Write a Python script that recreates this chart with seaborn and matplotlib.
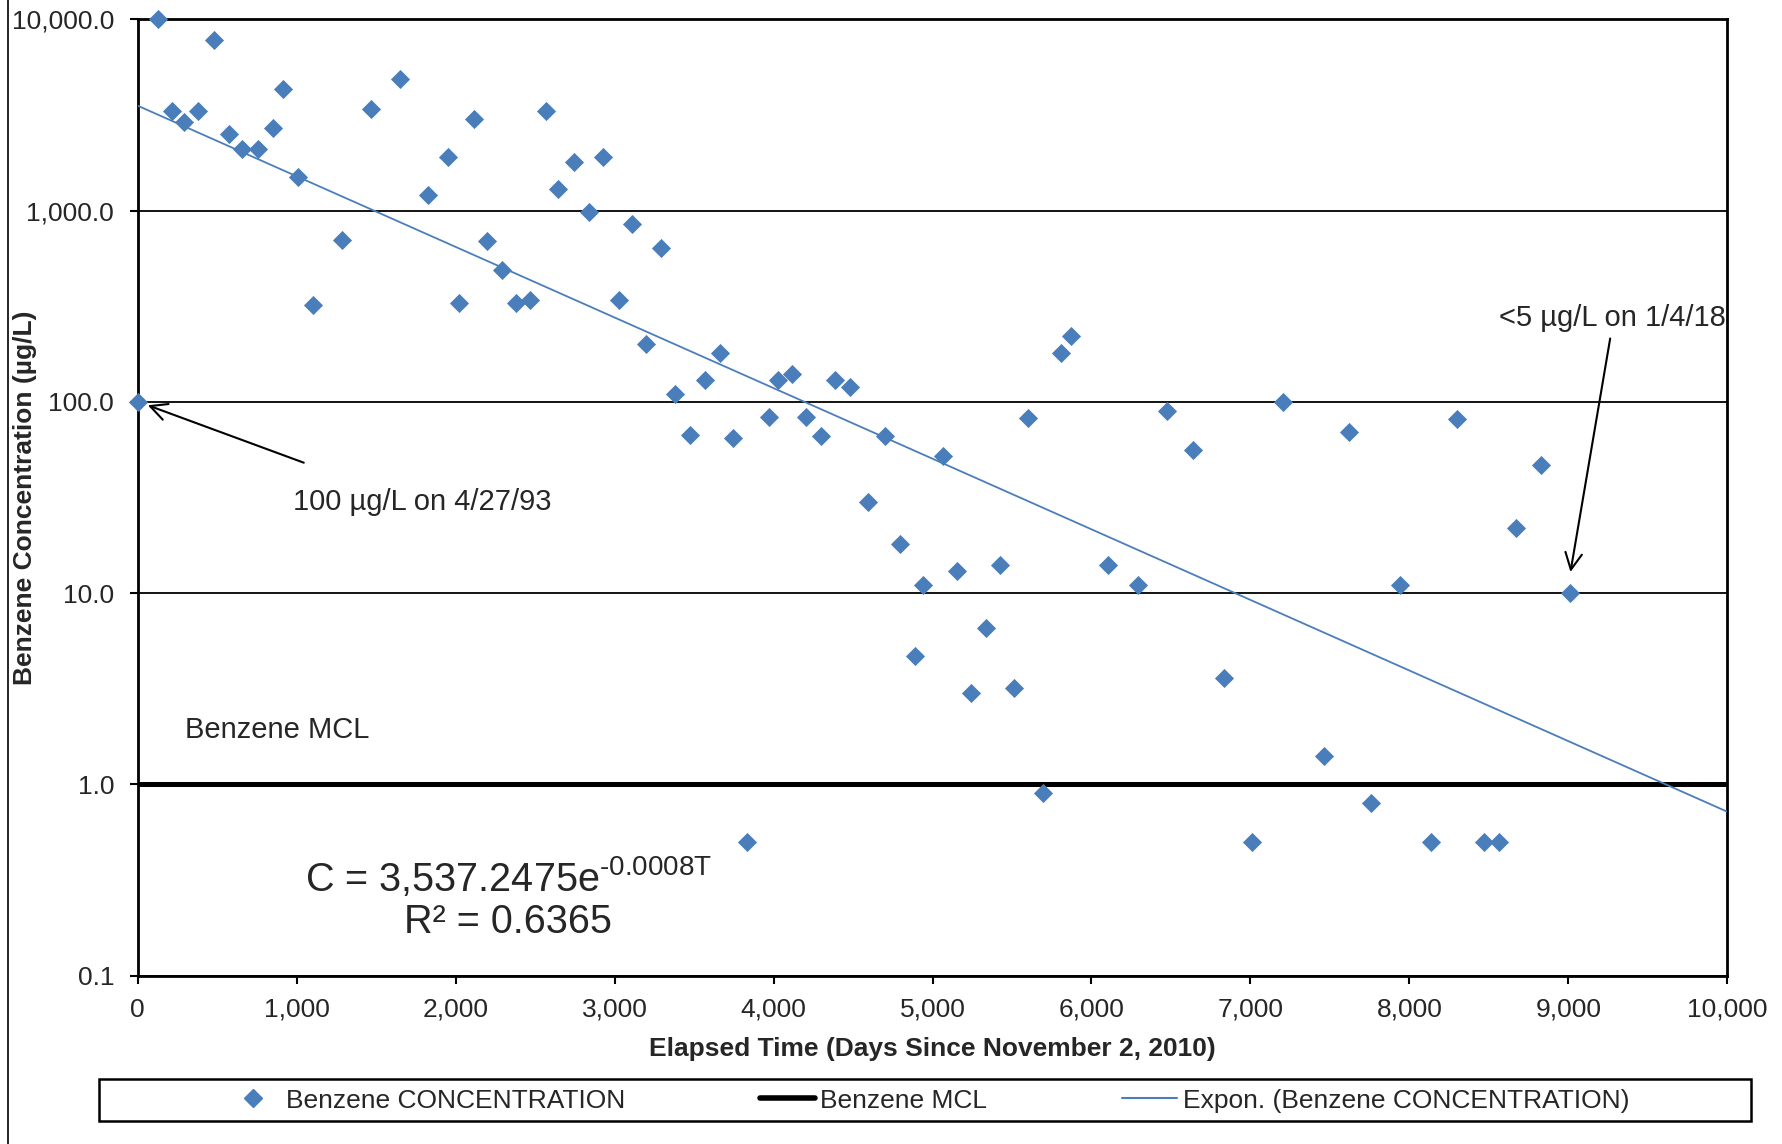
import numpy as np
import pandas as pd
import matplotlib
matplotlib.use("Agg")
import matplotlib.pyplot as plt
import seaborn as sns
from matplotlib.lines import Line2D
from matplotlib.patches import Rectangle
from matplotlib.ticker import FuncFormatter, FixedLocator, NullLocator

# Benzene concentration readings (elapsed days, ug/L)
elapsed_days = [0, 129, 215, 293, 379, 479, 572, 658, 758, 851, 916, 1009, 1102, 1288,
                1466, 1652, 1824, 1953, 2024, 2117, 2196, 2289, 2382, 2468, 2568, 2647,
                2747, 2840, 2926, 3026, 3112, 3197, 3290, 3383, 3476, 3569, 3662, 3748,
                3834, 3970, 4027, 4113, 4206, 4299, 4385, 4478, 4592, 4700, 4793, 4893,
                4943, 5064, 5157, 5243, 5336, 5422, 5515, 5601, 5694, 5808, 5873, 6102,
                6295, 6474, 6638, 6831, 7010, 7203, 7461, 7618, 7761, 7940, 8133, 8298,
                8469, 8562, 8670, 8827, 9013]
concentration = [100, 10000, 3300, 2900, 3300, 7800, 2500, 2100, 2100, 2700, 4300, 1500,
                 320, 700, 3400, 4900, 1200, 1900, 330, 3000, 690, 490, 330, 340, 3300,
                 1300, 1800, 980, 1900, 340, 850, 200, 640, 110, 67, 130, 180, 65,
                 0.5, 83, 130, 140, 83, 66, 130, 120, 30, 66, 18, 4.7,
                 11, 52, 13, 3.0, 6.6, 14, 3.2, 82, 0.9, 180, 220, 14,
                 11, 90, 56, 3.6, 0.5, 100, 1.4, 70, 0.8, 11, 0.5, 81,
                 0.5, 0.5, 22, 47, 10]

mcl_value = 1.0
trend_a = 3537.2475
trend_k = -0.00085
x_range = [0, 10000]

y_ticks = [0.1, 1, 10, 100, 1000, 10000]
x_ticks = list(range(0, 10001, 1000))

blue = "#4A7EBB"

sns.set_theme(style="white")
plt.rcParams["font.family"] = ["Liberation Sans", "DejaVu Sans"]
plt.rcParams["mathtext.fontset"] = "custom"
plt.rcParams["mathtext.rm"] = "Liberation Sans"
plt.rcParams["mathtext.it"] = "Liberation Sans"

df = pd.DataFrame({"days": elapsed_days, "conc": concentration})

fig = plt.figure(figsize=(17.83, 11.44), dpi=100)
ax = fig.add_axes([0.0772, 0.1471, 0.8916, 0.8360])

# horizontal grid at decades + MCL line
for yv in y_ticks:
    ax.axhline(yv, color="black", lw=1.3, zorder=1)
ax.axhline(mcl_value, color="black", lw=3.6, zorder=2)

# exponential trend line
tx = np.linspace(x_range[0], x_range[1], 200)
sns.lineplot(x=tx, y=trend_a * np.exp(trend_k * tx), ax=ax, color=blue, lw=1.3, zorder=3)

sns.scatterplot(data=df, x="days", y="conc", ax=ax, marker="D", s=95, color=blue,
                edgecolor=blue, linewidth=0, zorder=4, clip_on=False)

ax.set_yscale("log")
ax.set_ylim(0.1, 10000)
ax.set_xlim(0, 10000)
ax.yaxis.set_major_locator(FixedLocator(y_ticks))
ax.yaxis.set_minor_locator(NullLocator())
ax.yaxis.set_major_formatter(FuncFormatter(lambda v, p: f"{v:,.1f}"))
ax.xaxis.set_major_locator(FixedLocator(x_ticks))
ax.xaxis.set_major_formatter(FuncFormatter(lambda v, p: f"{v:,.0f}"))
ax.tick_params(axis="both", labelsize=19, length=6, width=1.5, direction="out",
               color="black", left=True, bottom=True)
ax.tick_params(axis="y", pad=11)
ax.tick_params(axis="x", pad=10)
for sp in ax.spines.values():
    sp.set_color("black")
    sp.set_linewidth(2)

ax.set_xlabel("Elapsed Time (Days Since November 2, 2010)", fontsize=19,
              fontweight="bold")
ax.xaxis.set_label_coords(0.5, -0.0645)
ax.set_ylabel("Benzene Concentration (µg/L)", fontsize=19, fontweight="bold", va="center")
ax.yaxis.set_label_coords(-0.0708, 0.5)

# annotations
ax.annotate("100 µg/L on 4/27/93", xy=(64, 96), xytext=(980, 30), fontsize=21,
            va="center", ha="left",
            arrowprops=dict(arrowstyle="->", color="black", lw=1.5, mutation_scale=30,
                            shrinkA=0, shrinkB=0, relpos=(0.04, 1.9)))
ax.annotate("<5 µg/L on 1/4/18", xy=(9013, 12.9), xytext=(9990, 273), fontsize=21,
            va="center", ha="right",
            arrowprops=dict(arrowstyle="->", color="black", lw=1.5, mutation_scale=30,
                            shrinkA=2, shrinkB=0, relpos=(0.495, 0)))
ax.text(300, 1.92, "Benzene MCL", fontsize=21, va="center", ha="left")
ax.text(2330, 0.33, "C = 3,537.2475e$^{\\mathrm{\u20100.0008T}}$", fontsize=28.5,
        va="center", ha="center")
ax.text(2330, 0.19, "R² = 0.6365", fontsize=28.5, va="center", ha="center")

# legend with its own frame below the plot
handles = [
    Line2D([], [], marker="D", color=blue, ls="none", markersize=9.5),
    Line2D([], [], color="black", lw=4),
    Line2D([], [], color=blue, lw=1.5),
]
labels = ["Benzene CONCENTRATION", "Benzene MCL", "Expon. (Benzene CONCENTRATION)"]
fig.legend(handles, labels, loc="center", bbox_to_anchor=(0.520, 0.038), ncol=3,
           frameon=False, fontsize=19, handlelength=2.1, handletextpad=0.2,
           columnspacing=5.1)
fig.add_artist(Rectangle((0.0555, 0.0199), 0.9265, 0.0368, transform=fig.transFigure,
                         fill=False, edgecolor="black", lw=1.8))
fig.add_artist(Line2D([0.0045, 0.0045], [0, 1], transform=fig.transFigure,
                      color="black", lw=1.2))

fig.savefig("out.png", dpi=100)
